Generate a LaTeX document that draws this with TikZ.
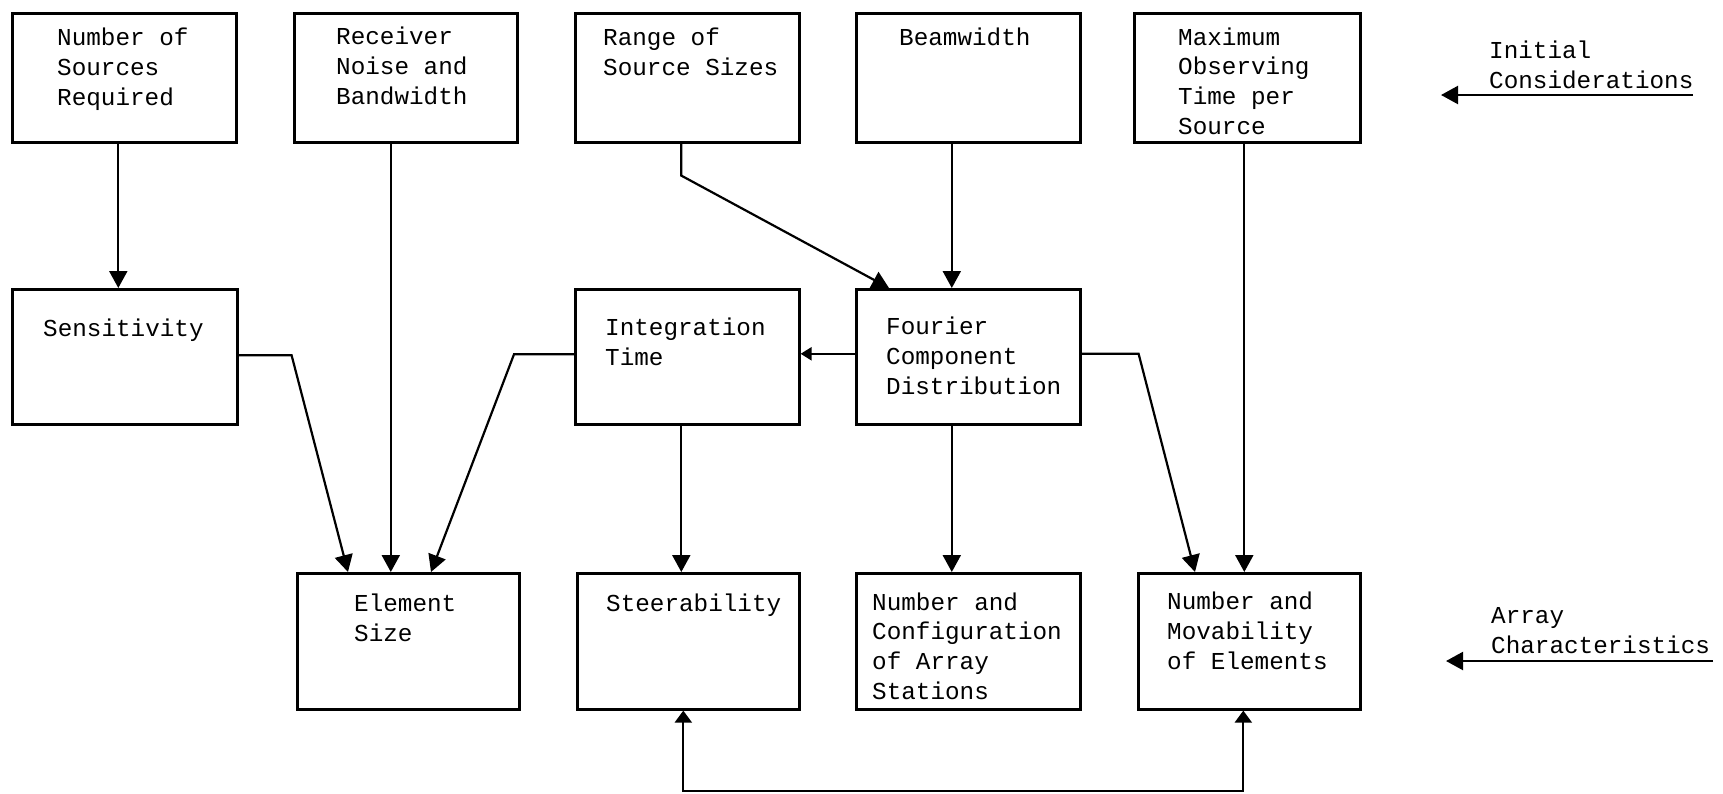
\documentclass[tikz,border=0pt]{standalone}
\usepackage{fontspec}
\setmonofont{Liberation Mono}
\usetikzlibrary{arrows.meta}
\tikzset{
  box/.style={draw, line width=2.6pt, rectangle, inner sep=0pt, anchor=north west},
  txt/.style={anchor=base west, inner sep=0pt, align=left, font=\ttfamily\fontsize{24.3}{29.6}\selectfont},
  conn/.style={line width=2.2pt},
  arr/.style={conn, -{Triangle[length=17pt,width=18pt]}},
  arrs/.style={conn, -{Triangle[length=11pt,width=13pt]}},
  arrb/.style={conn, {Triangle[length=12pt,width=17pt]}-{Triangle[length=12pt,width=17pt]}},
}
\begin{document}
\begin{tikzpicture}[x=1pt,y=-1pt]
\useasboundingbox (0,0) rectangle (1723,793);
% top row
\node[box, minimum width=224pt, minimum height=129pt] (nsrc) at (11,12) {};
\node[box, minimum width=223pt, minimum height=129pt] (recv) at (293,12) {};
\node[box, minimum width=224pt, minimum height=129pt] (range) at (574,12) {};
\node[box, minimum width=224pt, minimum height=129pt] (beam) at (855,12) {};
\node[box, minimum width=226pt, minimum height=129pt] (maxo) at (1133,12) {};
% middle row
\node[box, minimum width=225pt, minimum height=135pt] (sens) at (11,288) {};
\node[box, minimum width=224pt, minimum height=135pt] (integ) at (574,288) {};
\node[box, minimum width=224pt, minimum height=135pt] (four) at (855,288) {};
% bottom row
\node[box, minimum width=222pt, minimum height=136pt] (elem) at (296,572) {};
\node[box, minimum width=222pt, minimum height=136pt] (steer) at (576,572) {};
\node[box, minimum width=224pt, minimum height=136pt] (conf) at (855,572) {};
\node[box, minimum width=222pt, minimum height=136pt] (mov) at (1137,572) {};
% texts (anchored at the baseline of the last line)
\node[txt] (tnsrc) at (57,105) {Number of\\Sources\\Required};
\node[txt] (trecv) at (336,104) {Receiver\\Noise and\\Bandwidth};
\node[txt] (trange) at (603,75) {Range of\\Source Sizes};
\node[txt] (tbeam) at (899,45) {Beamwidth};
\node[txt] (tmaxo) at (1178,134) {Maximum\\Observing\\Time per\\Source};
\node[txt] (tsens) at (43,336) {Sensitivity};
\node[txt] (tinteg) at (605,365) {Integration\\Time};
\node[txt] (tfour) at (886,394) {Fourier\\Component\\Distribution};
\node[txt] (telem) at (354,641) {Element\\Size};
\node[txt] (tsteer) at (606,611) {Steerability};
\node[txt] (tconf) at (872,699) {Number and\\Configuration\\of Array\\Stations};
\node[txt] (tmov) at (1167,669) {Number and\\Movability\\of Elements};
\node[txt] (tinit) at (1489,88) {Initial\\Considerations};
\node[txt] (tarr) at (1491,653) {Array\\Characteristics};
% side arrows
\coordinate (ic1) at (1693,95);
\coordinate (ic2) at (1441,95);
\coordinate (ac1) at (1713,661);
\coordinate (ac2) at (1446,661);
\draw[arr] (ic1) -- (ic2);
\draw[arr] (ac1) -- (ac2);
% connectors
\draw[arr] ([xshift=-6pt]nsrc.south) -- ([xshift=-6pt]nsrc.south |- sens.north);
\draw[arr] ([xshift=-15pt]recv.south) -- ([xshift=-15pt]recv.south |- elem.north);
\draw[arr] ([xshift=-6pt]range.south) -- ++(0,32) -- ([xshift=34pt]four.north west);
\draw[arr] ([xshift=-16.5pt]beam.south) -- ([xshift=-16.5pt]four.north);
\draw[arrs] ([yshift=3pt]four.west) -- ([yshift=3pt]integ.east);
\draw[arr] ([yshift=1.5pt]sens.east) -- ++(53,0) -- ([xshift=52pt]elem.north west);
\draw[arr] ([yshift=2.5pt]integ.west) -- ++(-60,0) -- ([xshift=135pt]elem.north west);
\draw[arr] ([yshift=3pt]four.east) -- ++(57,0) -- ([xshift=58pt]mov.north west);
\draw[arr] ([xshift=-3pt]maxo.south) -- ([xshift=-3pt]maxo.south |- mov.north);
\draw[arr] ([xshift=-6pt]integ.south) -- ([xshift=-6pt]integ.south |- steer.north);
\draw[arr] ([xshift=-16.5pt]four.south) -- ([xshift=-16.5pt]four.south |- conf.north);
\draw[arrb] ([xshift=-5pt]steer.south) -- ++(0,80) -| ([xshift=-6pt]mov.south);
\end{tikzpicture}
\end{document}
